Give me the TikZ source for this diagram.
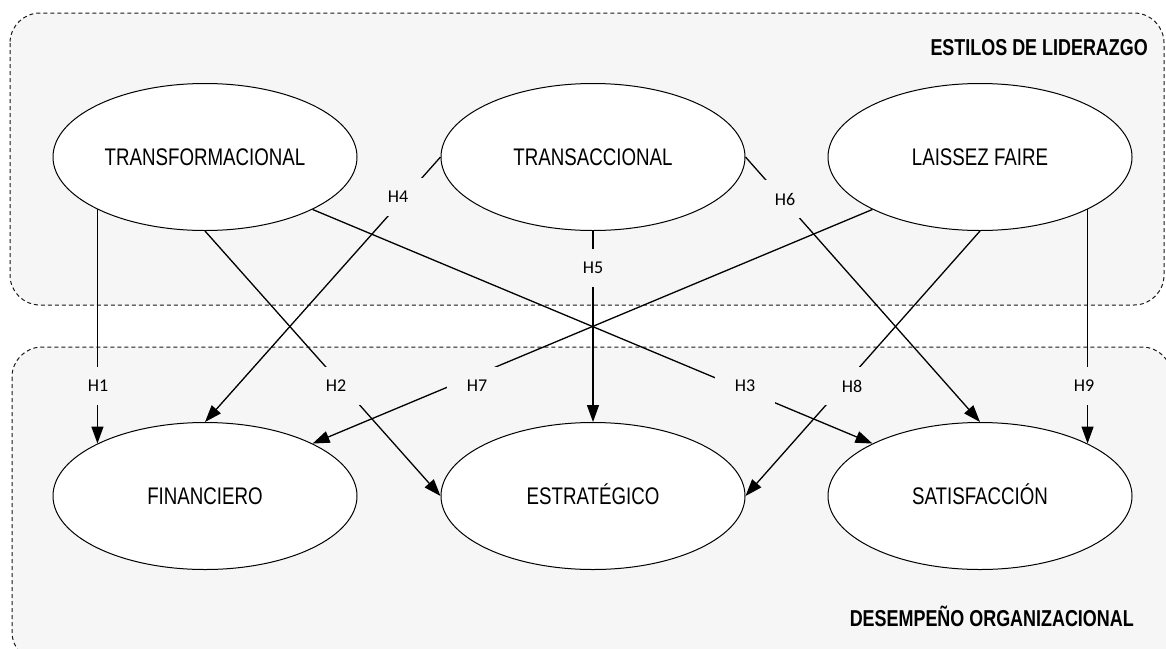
\documentclass[tikz,border=0pt]{standalone}
\usepackage{fontspec}
\setmainfont[FakeStretch=0.78]{Liberation Sans}
\newfontfamily\hipfont{Carlito}
\usetikzlibrary{positioning,arrows.meta,shapes.geometric}
\definecolor{panelgray}{HTML}{F6F6F6}
\tikzset{
  construct/.style={ellipse, draw, line width=1pt, fill=white,
    minimum width=304pt, minimum height=147pt, inner sep=0pt,
    font=\fontsize{24}{28}\selectfont, text height=17pt, text depth=0pt},
  hyp/.style={fill=panelgray, font=\hipfont\fontsize{18}{20}\selectfont,
    minimum width=60pt, minimum height=38pt, inner sep=0pt},
  link/.style={line width=1.3pt, -{Triangle[length=17pt,width=12pt]}},
  panel/.style={draw=black!90, dash pattern=on 4pt off 3pt, line width=1pt,
    fill=panelgray, rounded corners=30pt},
  paneltitle/.style={font=\bfseries\fontsize{23}{27}\selectfont,
    anchor=base east, inner sep=0pt}
}

\begin{document}
\begin{tikzpicture}[x=1pt,y=-1pt]
\useasboundingbox (0,0) rectangle (1166,648);
\clip (0,0) rectangle (1166,648);

% Panels
\draw[panel] (10,13) rectangle (1164,305);
\draw[panel] (12,347) rectangle (1172,662);
\node[paneltitle] (lead) at (1148,55) {ESTILOS DE LIDERAZGO};
\node[paneltitle] (perf) at (1134,626) {DESEMPEÑO ORGANIZACIONAL};

% Define nodes
\node[construct]                      (tf) at (205,157) {TRANSFORMACIONAL};
\node[construct, right=83pt of tf]    (ta) {TRANSACCIONAL};
\node[construct, right=82pt of ta]    (lf) {LAISSEZ FAIRE};
\node[construct, below=191pt of tf]   (fi) {FINANCIERO};
\node[construct, below=191pt of ta]   (es) {ESTRATÉGICO};
\node[construct, below=191pt of lf]   (sa) {SATISFACCIÓN};

% Connect the nodes
\draw[link] (tf.206)   -- (fi.154);
\draw[link] (tf.south) -- (es.west);
\draw[link] (tf.334)   -- (sa.154);
\draw[link] (ta.west)  -- (fi.north);
\draw[link] (ta.south) -- (es.north);
\draw[link] (ta.east)  -- (sa.north);
\draw[link] (lf.206)   -- (fi.26);
\draw[link] (lf.south) -- (es.east);
\draw[link] (lf.334)   -- (sa.26);

% Hypotheses
\node[hyp] (h1) at (98,386)   {H1};
\node[hyp] (h2) at (336,386)  {H2};
\node[hyp] (h3) at (745,386)  {H3};
\node[hyp] (h4) at (398,197)  {H4};
\node[hyp] (h5) at (593,268)  {H5};
\node[hyp] (h6) at (785,199)  {H6};
\node[hyp] (h7) at (477,386)  {H7};
\node[hyp] (h8) at (852,386)  {H8};
\node[hyp] (h9) at (1084,386) {H9};

\end{tikzpicture}
\end{document}
